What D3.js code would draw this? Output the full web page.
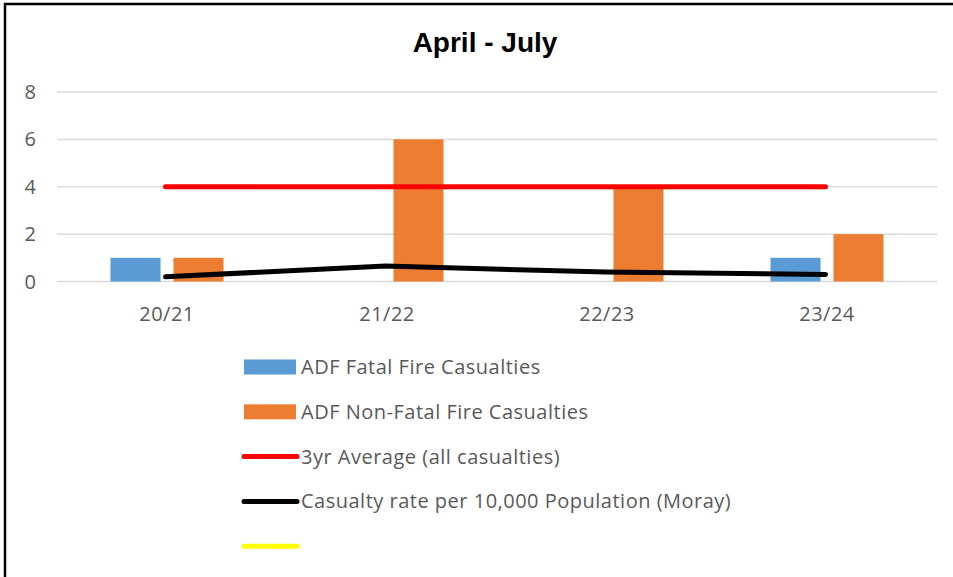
<!DOCTYPE html>
<html>
<head>
<meta charset="utf-8">
<script src="https://cdn.jsdelivr.net/npm/d3@7"></script>
<style>
  body { margin: 0; background: white; }
  text { font-family: "Open Sans", "DejaVu Sans", sans-serif; }
</style>
</head>
<body>
<div class="chart"></div>
<script>
// data
let years = ["20/21", "21/22", "22/23", "23/24"]
let fatal = [1, 0, 0, 1]
let nonFatal = [1, 6, 4, 2]
let avg3yr = [4, 4, 4, 4]
let rateMoray = [0.2, 0.65, 0.4, 0.3]
let yTicks = [0, 2, 4, 6, 8]

let legendKeys = ["ADF Fatal Fire Casualties", "ADF Non-Fatal Fire Casualties",
  "3yr Average (all casualties)", "Casualty rate per 10,000 Population (Moray)", ""]
let legendColors = ["#5b9bd5", "#ed7d31", "#ff0000", "#000000", "#ffff00"]
let legendType = ["rect", "rect", "line", "line", "line"]

let w = 953
let h = 577

let svg = d3.select(".chart")
  .append("svg")
  .attr("width", w)
  .attr("height", h)

// outer frame (only top + left show in the shot)
svg.append("path")
  .attr("d", "M5,577 V4 H953")
  .attr("fill", "none")
  .attr("stroke", "black")
  .attr("stroke-width", 2.5)

svg.append("text")
  .text("April - July")
  .attr("x", 485)
  .attr("y", 52)
  .attr("text-anchor", "middle")
  .style("font-family", "'Liberation Sans', Arial, sans-serif")
  .style("font-weight", "bold")
  .style("font-size", "28px")
  .style("fill", "black")

const xScale = d3.scaleBand()
  .domain(years)
  .range([57, 937])
const yScale = d3.scaleLinear()
  .domain([0, 8])
  .range([281.5, 92])

// gridlines
svg.selectAll(".grid")
  .data(yTicks)
  .enter()
  .append("line")
  .attr("x1", 57).attr("x2", 937)
  .attr("y1", d => yScale(d)).attr("y2", d => yScale(d))
  .attr("stroke", "#d9d9d9")
  .attr("stroke-width", 1.5)

// y labels
svg.selectAll(".ylab")
  .data(yTicks)
  .enter()
  .append("text")
  .attr("x", 36)
  .attr("y", d => yScale(d) + 7)
  .attr("text-anchor", "end")
  .style("font-size", "20px")
  .style("fill", "#595959")
  .text(d => d)

// x labels
svg.selectAll(".xlab")
  .data(years)
  .enter()
  .append("text")
  .attr("x", d => xScale(d) + xScale.bandwidth() / 2)
  .attr("y", 321)
  .attr("text-anchor", "middle")
  .style("font-size", "20px")
  .style("letter-spacing", "0.5px")
  .style("fill", "#595959")
  .text(d => d)

const inner = d3.scaleBand()
  .domain(["fatal", "nonFatal"])
  .range([0, xScale.bandwidth()])
  .paddingInner(0.206)
  .paddingOuter(0.849)

let bars = []
years.forEach((y, i) => {
  bars.push({ year: y, key: "fatal", v: fatal[i], c: "#5b9bd5" })
  bars.push({ year: y, key: "nonFatal", v: nonFatal[i], c: "#ed7d31" })
})

svg.selectAll(".bar")
  .data(bars.filter(d => d.v > 0))
  .enter()
  .append("rect")
  .attr("class", "bar")
  .attr("x", d => xScale(d.year) + inner(d.key))
  .attr("width", inner.bandwidth())
  .attr("y", d => yScale(d.v))
  .attr("height", d => yScale(0) - yScale(d.v))
  .style("fill", d => d.c)

let cx = (d, i) => xScale(years[i]) + xScale.bandwidth() / 2 - 1.5

let line = d3.line()
  .x((d, i) => cx(d, i))
  .y(d => yScale(d))

svg.append("path")
  .datum(avg3yr)
  .attr("d", line)
  .attr("fill", "none")
  .attr("stroke", "#ff0000")
  .attr("stroke-width", 5)
  .attr("stroke-linecap", "round")

svg.append("path")
  .datum(rateMoray)
  .attr("d", line)
  .attr("fill", "none")
  .attr("stroke", "#000000")
  .attr("stroke-width", 5)
  .attr("stroke-linecap", "round")

// legend
let legend = svg.append("g").attr("id", "legend")
legendKeys.forEach((k, i) => {
  let y = 367 + i * 44.8
  if (legendType[i] == "rect") {
    legend.append("rect")
      .attr("x", 244).attr("y", y - 7.5)
      .attr("width", 52).attr("height", 15)
      .style("fill", legendColors[i])
  } else {
    legend.append("line")
      .attr("x1", 244).attr("x2", 297)
      .attr("y1", y).attr("y2", y)
      .attr("stroke", legendColors[i])
      .attr("stroke-width", 5)
      .attr("stroke-linecap", "round")
  }
  legend.append("text")
    .attr("x", 301)
    .attr("y", y + 7)
    .style("font-size", "20px")
    .style("letter-spacing", "0.5px")
    .style("fill", "#595959")
    .text(k)
})
</script>
</body>
</html>
